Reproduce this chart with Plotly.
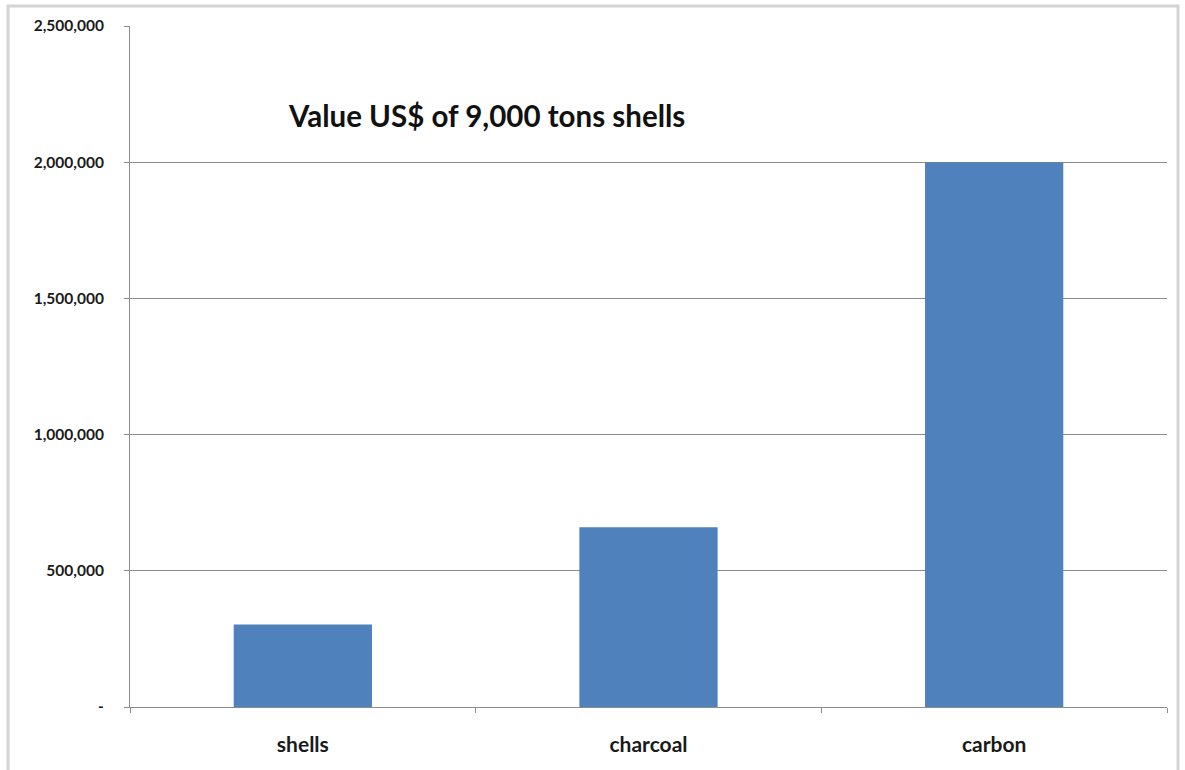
import plotly.graph_objects as go

categories = ["shells", "charcoal", "carbon"]
values = [303000, 660000, 2000000]
y_tickvals = [0, 500000, 1000000, 1500000, 2000000, 2500000]
y_ticktext = ["-", "500,000", "1,000,000", "1,500,000", "2,000,000", "2,500,000"]
title_text = "Value US$ of 9,000 tons shells"

fig = go.Figure()
fig.add_trace(go.Bar(
    x=categories, y=values,
    marker=dict(color="#4F81BD", line=dict(width=0)),
    width=0.4,
))

fig.update_layout(
    width=1185, height=770,
    margin=dict(l=130, r=18, t=26, b=63),
    paper_bgcolor="white", plot_bgcolor="white",
    showlegend=False,
    font=dict(family="Lato, Open Sans, sans-serif", color="#1a1a1a"),
    bargap=0.6,
)
fig.update_yaxes(
    range=[0, 2500000],
    tickvals=y_tickvals, ticktext=y_ticktext,
    showgrid=True, gridcolor="#8c8c8c", gridwidth=1,
    showline=True, linecolor="#8c8c8c", linewidth=1,
    ticks="outside", ticklen=5, tickcolor="#8c8c8c",
    tickfont=dict(size=15.5, family="Lato", color="#1a1a1a", weight="bold"),
    ticklabelstandoff=17,
    zeroline=False,
)
fig.update_xaxes(
    showline=True, linecolor="#8c8c8c", linewidth=1,
    ticks="outside", ticklen=5, tickcolor="#8c8c8c", tickson="boundaries",
    tickfont=dict(size=21, family="Lato", color="#1a1a1a", weight="bold"),
    ticklabelstandoff=19,
    showgrid=False,
)
fig.add_annotation(
    text=title_text, xref="paper", yref="paper",
    x=0.344, y=0.868, xanchor="center", yanchor="middle",
    showarrow=False,
    font=dict(size=29.5, family="Lato", color="#111111", weight="bold"),
)
fig.add_shape(
    type="rect", xref="paper", yref="paper",
    x0=-0.1176, x1=1.0106, y0=-0.11, y1=1.0294,
    line=dict(color="#d4d4d4", width=3), fillcolor="rgba(0,0,0,0)",
    layer="below",
)

fig.write_html("out.html")
